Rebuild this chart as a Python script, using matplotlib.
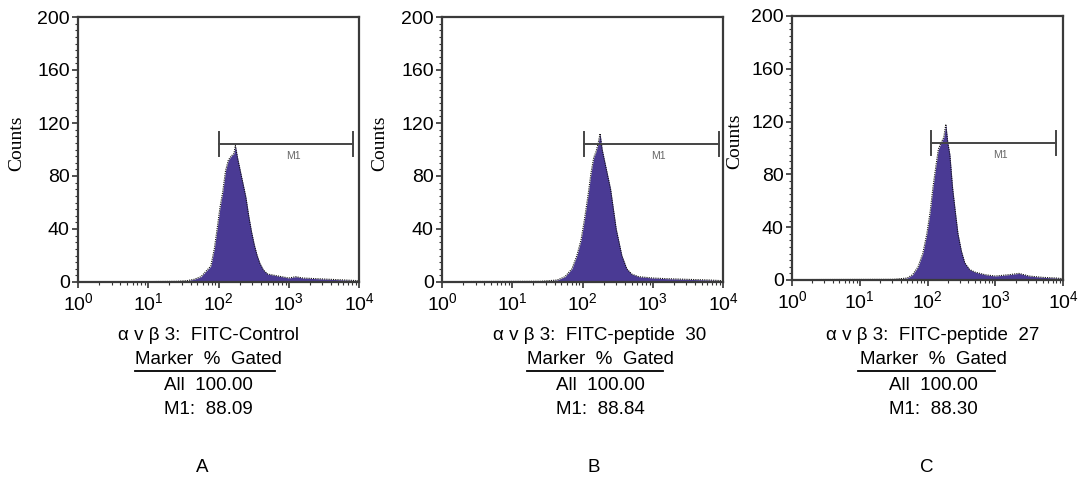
import matplotlib
matplotlib.use("Agg")
import matplotlib.pyplot as plt
from matplotlib.lines import Line2D
from matplotlib.ticker import MultipleLocator, LogLocator, NullFormatter
import numpy as np

plt.rcParams["font.family"] = ["Liberation Sans", "DejaVu Sans"]
plt.rcParams["mathtext.fontset"] = "custom"
plt.rcParams["mathtext.rm"] = "Liberation Sans"
plt.rcParams["mathtext.it"] = "Liberation Sans"

# log10 fluorescence intensity -> counts
logx_a = [0.0, 1.0, 1.40, 1.55, 1.65, 1.75, 1.82, 1.89, 1.94, 1.98, 2.02, 2.06, 2.10,
          2.14, 2.18, 2.22, 2.24, 2.27, 2.31, 2.35, 2.39, 2.43, 2.47, 2.51, 2.55,
          2.59, 2.64, 2.70, 2.80, 2.90, 3.00, 3.10, 3.20, 3.40, 3.60, 3.80, 4.0]
counts_a = [0.3, 0.3, 0.5, 1, 2, 4, 8, 12, 25, 40, 56, 68, 84,
            92, 95, 97, 103, 94, 84, 74, 64, 50, 38, 28, 20,
            14, 9, 6, 5, 4, 3, 4, 3, 2.5, 2, 1.5, 1]

logx_b = [0.0, 1.40, 1.64, 1.75, 1.85, 1.92, 1.98, 2.03, 2.08, 2.12, 2.16, 2.19,
          2.22, 2.25, 2.28, 2.32, 2.36, 2.40, 2.44, 2.48, 2.52, 2.56, 2.63, 2.70,
          2.80, 3.00, 3.20, 3.50, 3.80, 4.0]
counts_b = [0.3, 0.5, 1.5, 4, 10, 20, 32, 48, 66, 82, 94, 98,
            104, 112, 100, 90, 80, 70, 55, 40, 30, 20, 10, 6,
            4, 3, 2.5, 2, 1.5, 1]

logx_c = [0.0, 1.50, 1.70, 1.78, 1.86, 1.93, 1.99, 2.04, 2.08, 2.12, 2.16, 2.20,
          2.24, 2.27, 2.30, 2.33, 2.37, 2.41, 2.45, 2.50, 2.55, 2.62, 2.70, 2.85,
          3.00, 3.20, 3.35, 3.50, 3.70, 3.90, 4.0]
counts_c = [0.3, 0.5, 1.5, 4, 10, 20, 35, 52, 70, 85, 99, 104,
            108, 118, 104, 95, 70, 52, 35, 22, 13, 8, 6, 4,
            3, 4, 5, 3, 2, 1.5, 1]

# M1 gate: (start, end) in log10 units, bar height in counts
gates = [(2.01, 3.91), (2.02, 3.94), (2.05, 3.90)]
gate_height = 104

titles = ["\u03b1 v \u03b2 3:  FITC-Control",
          "\u03b1 v \u03b2 3:  FITC-peptide  30",
          "\u03b1 v \u03b2 3:  FITC-peptide  27"]
m1_values = ["88.09", "88.84", "88.30"]
panel_letters = ["A", "B", "C"]

W, H = 1079, 479
fig = plt.figure(figsize=(W / 100, H / 100), dpi=100)

# axes boxes in pixels: left, top, right, bottom
boxes = [(78, 17, 359, 282), (442, 17, 723, 282), (792, 16, 1063, 280)]
text_centers = [208, 600, 933]
underlines = [(135, 275), (527, 663), (858, 995)]
label_px = [17, 380, 735]

fill_color = "#4a3a94"
series = [(logx_a, counts_a), (logx_b, counts_b), (logx_c, counts_c)]
fs = 13.5

for i, (lx, cnt) in enumerate(series):
    l, t, r, b = boxes[i]
    ax = fig.add_axes([l / W, 1 - b / H, (r - l) / W, (b - t) / H])
    xs = 10 ** np.array(lx)
    ax.fill_between(xs, 0, cnt, color=fill_color, linewidth=0)
    ax.plot(xs, cnt, color="#111111", linewidth=0.8, linestyle=(0, (1, 1)))
    ax.set_xscale("log")
    ax.set_xlim(1, 1e4)
    ax.set_ylim(0, 200)

    g0, g1 = gates[i]
    ax.plot([10 ** g0, 10 ** g1], [gate_height, gate_height], color="#444444", lw=1.4)
    for g in (g0, g1):
        ax.plot([10 ** g, 10 ** g], [gate_height - 9, gate_height + 9], color="#444444", lw=1.4)
    ax.text(10 ** ((g0 + g1) / 2 + 0.1), gate_height - 9, "M1", fontsize=7.5,
            color="#666666", ha="center", va="center")

    ax.set_yticks(range(0, 201, 40))
    ax.yaxis.set_minor_locator(MultipleLocator(5))
    ax.xaxis.set_major_locator(LogLocator(base=10, numticks=10))
    ax.xaxis.set_minor_locator(LogLocator(base=10, subs=np.arange(2, 10), numticks=10))
    ax.xaxis.set_minor_formatter(NullFormatter())
    ax.tick_params(axis="both", which="major", labelsize=14, length=4, width=1.2,
                   color="#333333", direction="out")
    ax.tick_params(axis="both", which="minor", length=2.5, width=0.8, color="#333333",
                   direction="out")
    ax.tick_params(axis="x", pad=3)
    ax.tick_params(axis="y", pad=2)
    for s in ax.spines.values():
        s.set_color("#3a3a3a")
        s.set_linewidth(1.6)

    ax.set_ylabel("Counts", family=["Liberation Serif"], fontsize=14, va="center")
    ax.yaxis.set_label_coords((label_px[i] - l) / (r - l), 0.525)

    cx = text_centers[i] / W
    fig.text(cx, 1 - 335 / H, titles[i], fontsize=fs, ha="center", va="center")
    fig.text(cx, 1 - 360 / H, "Marker  %  Gated", fontsize=fs, ha="center", va="center")
    u0, u1 = underlines[i]
    fig.add_artist(Line2D([u0 / W, u1 / W], [1 - 371 / H, 1 - 371 / H],
                          color="black", lw=1.3))
    fig.text(cx, 1 - 385 / H, "All  100.00", fontsize=fs, ha="center", va="center")
    fig.text(cx, 1 - 409 / H, "M1:  " + m1_values[i], fontsize=fs, ha="center", va="center")
    fig.text(cx - 6 / W, 1 - 468 / H, panel_letters[i], fontsize=fs, ha="center", va="center")

fig.savefig("out.png", dpi=100)
